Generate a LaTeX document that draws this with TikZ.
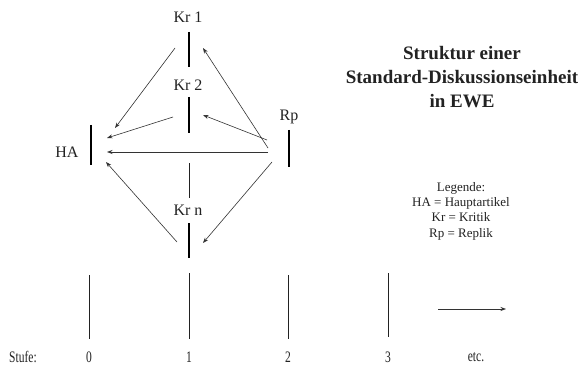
\documentclass[tikz,border=0pt]{standalone}
\usepackage{fontspec}
\setmainfont{Liberation Serif}
\newfontfamily\narrowfont[FakeStretch=0.72]{Liberation Serif}
\usetikzlibrary{arrows.meta}
\definecolor{ink}{HTML}{222222}
\definecolor{arr}{HTML}{333333}
\tikzset{
  lbl/.style={inner sep=0pt, font=\fontsize{16}{19}\selectfont, text=ink},
  bar/.style={line width=2.6pt, draw=black},
  thinline/.style={line width=0.9pt, draw=ink},
  conn/.style={line width=0.6pt, draw=arr, -{Stealth[length=5.5pt,width=4pt]}},
  stufe/.style={inner sep=0pt, font=\narrowfont\fontsize{16}{18}\selectfont, text=ink},
}
\begin{document}
\begin{tikzpicture}[x=1pt,y=-1pt]
\useasboundingbox[fill=white] (0,0) rectangle (587,369);

% labels
\node[lbl] (kr1) at (188,17) {Kr 1};
\node[lbl] (kr2) at (188,85) {Kr 2};
\node[lbl] (ha) at (67,152) {HA};
\node[lbl] (rp) at (289,117) {Rp};
\node[lbl] (krn) at (188,210) {Kr n};

% bars
\coordinate (kr1t) at (189,32);  \coordinate (kr1b) at (189,67);
\coordinate (kr2t) at (189,97);  \coordinate (kr2b) at (189,133);
\coordinate (hat) at (91,125);   \coordinate (hab) at (91,165);
\coordinate (rpt) at (289,130);  \coordinate (rpb) at (289,167);
\coordinate (krnt) at (189,223); \coordinate (krnb) at (189,258);
\draw[bar] (kr1t) -- (kr1b);
\draw[bar] (kr2t) -- (kr2b);
\draw[bar] (hat) -- (hab);
\draw[bar] (rpt) -- (rpb);
\draw[bar] (krnt) -- (krnb);

% thin connecting line
\coordinate (mt) at (189,163); \coordinate (mb) at (189,198);
\draw[thinline] (mt) -- (mb);

% arrows
\coordinate (a1s) at (175,48);  \coordinate (a1e) at (115,128);
\coordinate (a2s) at (268,148); \coordinate (a2e) at (203,48);
\coordinate (a3s) at (173,117); \coordinate (a3e) at (107,138);
\coordinate (a4s) at (267,140); \coordinate (a4e) at (203,115);
\coordinate (a5s) at (268,152); \coordinate (a5e) at (107,152);
\coordinate (a6s) at (177,242); \coordinate (a6e) at (106,162);
\coordinate (a7s) at (272,162); \coordinate (a7e) at (203,243);
\draw[conn] (a1s) -- (a1e);
\draw[conn] (a2s) -- (a2e);
\draw[conn] (a3s) -- (a3e);
\draw[conn] (a4s) -- (a4e);
\draw[conn] (a5s) -- (a5e);
\draw[conn] (a6s) -- (a6e);
\draw[conn] (a7s) -- (a7e);

% title
\node[inner sep=0pt, align=center, text=ink,
      font=\bfseries\fontsize{19}{24}\selectfont] (title) at (462,77)
  {Struktur einer\\Standard-Diskussionseinheit\\in EWE};

% legend
\node[inner sep=0pt, align=center, text=ink,
      font=\fontsize{13}{15.3}\selectfont] (legend) at (461,211)
  {Legende:\\HA = Hauptartikel\\Kr = Kritik\\Rp = Replik};

% Stufen
\coordinate (s0t) at (89,275);  \coordinate (s0b) at (89,339);
\coordinate (s1t) at (189,273); \coordinate (s1b) at (189,339);
\coordinate (s2t) at (288,275); \coordinate (s2b) at (288,339);
\coordinate (s3t) at (388,273); \coordinate (s3b) at (388,337);
\draw[thinline] (s0t) -- (s0b);
\draw[thinline] (s1t) -- (s1b);
\draw[thinline] (s2t) -- (s2b);
\draw[thinline] (s3t) -- (s3b);
\coordinate (es) at (438,309); \coordinate (ee) at (506,309);
\draw[conn] (es) -- (ee);

\node[stufe] (st) at (23,357) {Stufe:};
\node[stufe] (n0) at (89,357) {0};
\node[stufe] (n1) at (189,357) {1};
\node[stufe] (n2) at (288,357) {2};
\node[stufe] (n3) at (388,357) {3};
\node[stufe] (etc) at (476,357) {etc.};
\end{tikzpicture}
\end{document}
